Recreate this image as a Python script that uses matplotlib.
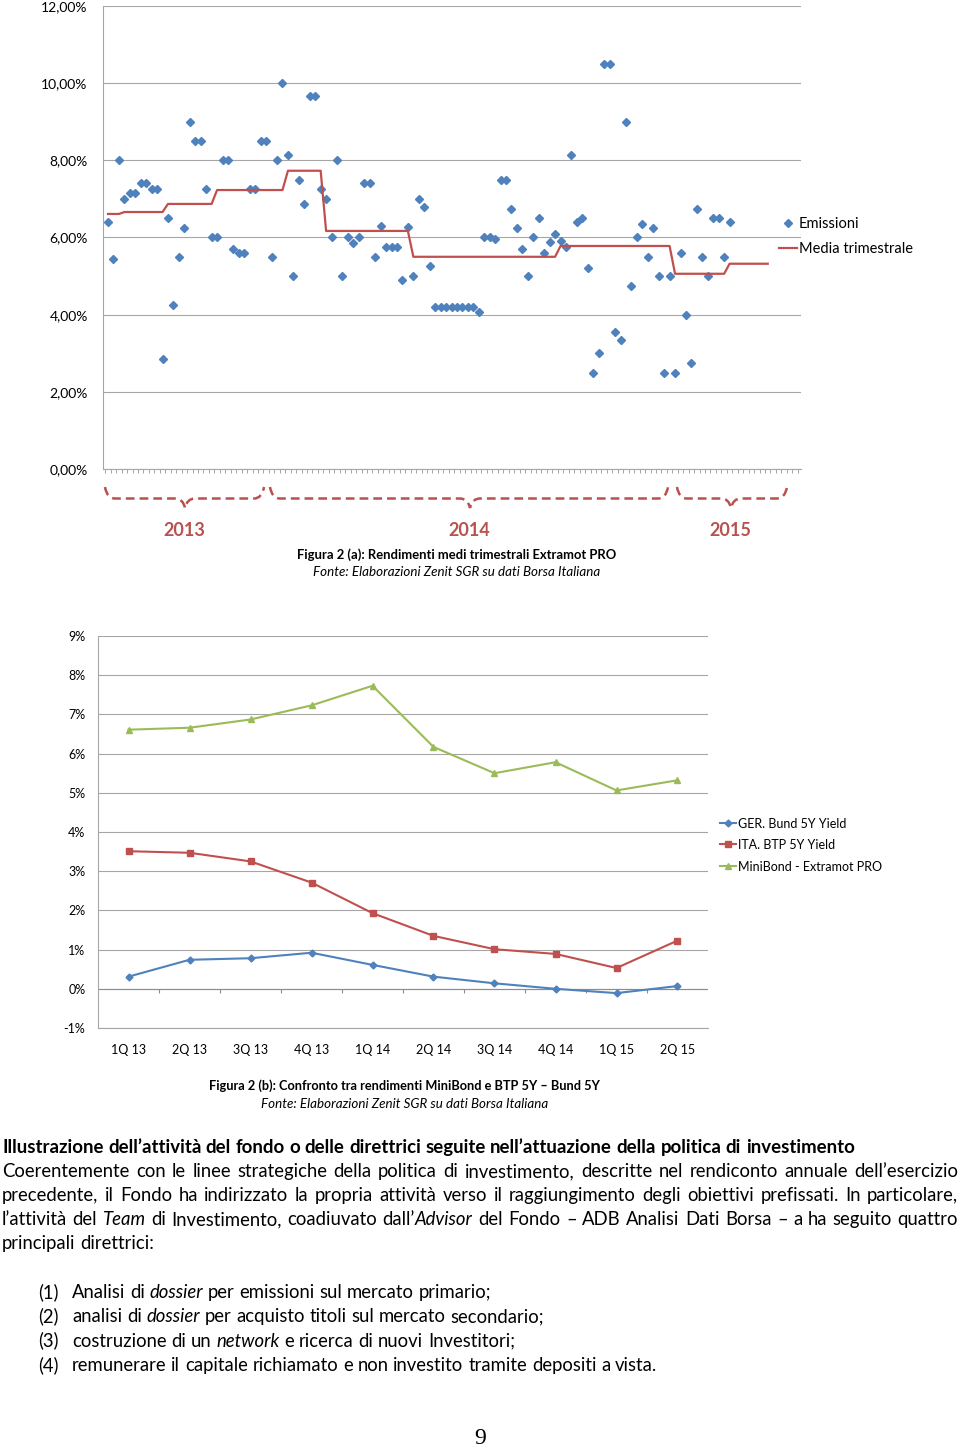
import numpy as np
import matplotlib
matplotlib.use("Agg")
import matplotlib.pyplot as plt
from matplotlib.path import Path
from matplotlib.patches import PathPatch

plt.rcParams['font.family'] = ['Lato', 'DejaVu Sans']

# Figura 2 (a): rendimento di ogni emissione (%), in ordine di data
emissioni = [
    6.40, 5.45, 8.00, 7.00, 7.15, 7.15, 7.40, 7.40, 7.25, 7.25,
    2.85, 6.50, 4.25, 5.50, 6.25, 9.00, 8.50, 8.50, 7.25, 6.00,
    6.00, 8.00, 8.00, 5.70, 5.60, 5.60, 7.25, 7.25, 8.50, 8.50,
    5.50, 8.00, 10.00, 8.13, 5.00, 7.50, 6.88, 9.68, 9.68, 7.25,
    7.00, 6.00, 8.00, 5.00, 6.00, 5.85, 6.00, 7.40, 7.40, 5.50,
    6.30, 5.75, 5.75, 5.75, 4.90, 6.27, 5.00, 7.00, 6.80, 5.25,
    4.20, 4.20, 4.20, 4.20, 4.20, 4.20, 4.20, 4.20, 4.08, 6.00,
    6.00, 5.95, 7.50, 7.50, 6.75, 6.25, 5.70, 5.00, 6.00, 6.50,
    5.60, 5.88, 6.10, 5.90, 5.75, 8.13, 6.40, 6.50, 5.20, 2.50,
    3.00, 10.50, 10.50, 3.55, 3.35, 9.00, 4.75, 6.00, 6.35, 5.50,
    6.25, 5.00, 2.50, 5.00, 2.50, 5.60, 4.00, 2.75, 6.75, 5.50,
    5.00, 6.50, 6.50, 5.50, 6.40,
]
# numero di categorie coperte da ogni trimestre nella media
len_trim = [3, 8, 9, 13, 7, 16, 27, 21, 10, 8]
anni = ['2013', '2014', '2015']

# Figura 2 (b)
trimestri = ['1Q 13', '2Q 13', '3Q 13', '4Q 13', '1Q 14',
             '2Q 14', '3Q 14', '4Q 14', '1Q 15', '2Q 15']
bund = [0.31, 0.74, 0.78, 0.92, 0.61, 0.31, 0.14, 0.00, -0.11, 0.07]
btp = [3.51, 3.47, 3.25, 2.71, 1.93, 1.35, 1.01, 0.89, 0.53, 1.23]
minibond = [6.61, 6.66, 6.87, 7.23, 7.73, 6.17, 5.50, 5.78, 5.06, 5.32]

BLUE = '#4F81BD'
RED = '#C0504D'
GREEN = '#9BBB59'
GRID = '#A6A6A6'
AXIS = '#8C8C8C'
BRACE = '#B8514F'

W, H = 960, 1448
fig = plt.figure(figsize=(W / 100, H / 100), dpi=100)


def box(l, t, r, b):
    return [l / W, 1 - b / H, (r - l) / W, (b - t) / H]


# ---------------- grafico (a)
ax1 = fig.add_axes(box(103, 6, 801, 469))
ax1.plot(np.arange(len(emissioni)), emissioni, ls='none', marker='D',
         ms=4.2, color=BLUE, zorder=3)
media = np.repeat(minibond, len_trim)
ax1.plot(np.arange(len(media)), media, color=RED, lw=1.6, zorder=4)
ax1.set_xlim(-0.92, 127.1)
ax1.set_ylim(0, 12)
yt = np.arange(0, 13, 2)
ax1.set_yticks(yt)
ax1.set_yticklabels([f'{v:.2f}'.replace('.', ',') + '%' for v in yt])
ax1.set_xticks(np.arange(-0.5, 127, 1))
ax1.tick_params(axis='x', length=3, width=0.7, color=GRID, labelbottom=False)
ax1.tick_params(axis='y', length=0, pad=11, labelsize=10)
ax1.grid(axis='y', color=GRID, lw=0.8)
ax1.set_axisbelow(True)
for s in ['top', 'right']:
    ax1.spines[s].set_visible(False)
for s in ['left', 'bottom']:
    ax1.spines[s].set_color(GRID)

# ---------------- grafico (b)
ax2 = fig.add_axes(box(98, 636, 708, 1028))
xq = np.arange(len(trimestri))
ax2.plot(xq, bund, color=BLUE, lw=1.5, marker='D', ms=3.5, zorder=4)
ax2.plot(xq, btp, color=RED, lw=1.5, marker='s', ms=4.5, zorder=4)
ax2.plot(xq, minibond, color=GREEN, lw=1.5, marker='^', ms=5, zorder=4)
ax2.set_xlim(-0.5, len(trimestri) - 0.5)
ax2.set_ylim(-1, 9)
ax2.set_yticks(range(-1, 10))
ax2.set_yticklabels([f'{v}%' for v in range(-1, 10)])
ax2.set_xticks(xq)
ax2.set_xticklabels(trimestri)
ax2.tick_params(axis='x', length=0, pad=11.5, labelsize=9)
ax2.tick_params(axis='y', length=0, pad=9, labelsize=9)
ax2.grid(axis='y', color=GRID, lw=0.8)
ax2.set_axisbelow(True)
ax2.axhline(0, color=AXIS, lw=0.8, zorder=2)
ax2.vlines(np.arange(1, len(trimestri)) - 0.5, -0.1, 0, color=AXIS, lw=0.8)
for s in ['top', 'right']:
    ax2.spines[s].set_visible(False)
for s in ['left', 'bottom']:
    ax2.spines[s].set_color(GRID)

# ---------------- testo della pagina (coordinate in pixel)
ov = fig.add_axes([0, 0, 1, 1])
ov.set_xlim(0, W)
ov.set_ylim(H, 0)
ov.axis('off')
R = fig.canvas.get_renderer()


def width(t):
    return t.get_window_extent(renderer=R).width


def fit(x, y, s, w, **kw):
    t = ov.text(x, y, s, fontsize=10, **kw)
    t.set_fontsize(10 * w / width(t))
    return t


def space(size, weight='normal'):
    a = ov.text(0, 0, 'n n', fontsize=size, weight=weight)
    b = ov.text(0, 0, 'nn', fontsize=size, weight=weight)
    w = width(a) - width(b)
    a.remove()
    b.remove()
    return w


def rich_line(x0, y, text, size, x1=None, weight='normal'):
    words = []
    for w in text.split(' '):
        segs = [(p, 'italic' if k % 2 else 'normal')
                for k, p in enumerate(w.split('*')) if p]
        arts = [ov.text(0, y, p, fontsize=size, style=st, weight=weight,
                        va='baseline') for p, st in segs]
        words.append((arts, [width(a) for a in arts]))
    gap = space(size, weight)
    if x1 is not None:
        gap = (x1 - x0 - sum(sum(ws) for _, ws in words)) / (len(words) - 1)
    x = x0
    for arts, ws in words:
        for a, wd in zip(arts, ws):
            a.set_x(x)
            x += wd
        x += gap


def brace(x0, x1, xt, y_end=487, y_mid=498.5, y_tip=508):
    verts = [(x0, y_end), (x0 + 2, y_mid), (x0 + 10, y_mid),
             (xt - 10, y_mid), (xt - 2, y_mid), (xt, y_tip),
             (xt + 2, y_mid), (xt + 10, y_mid),
             (x1 - 10, y_mid), (x1 - 2, y_mid), (x1, y_end)]
    codes = [Path.MOVETO, Path.CURVE3, Path.CURVE3, Path.LINETO,
             Path.CURVE3, Path.CURVE3, Path.CURVE3, Path.CURVE3,
             Path.LINETO, Path.CURVE3, Path.CURVE3]
    ov.add_patch(PathPatch(Path(verts, codes), fill=False, ec=BRACE,
                           lw=1.8, ls=(0, (3.5, 2))))


# legenda (a)
ov.plot([788], [223], ls='none', marker='D', ms=4.2, color=BLUE)
ov.text(799, 224, 'Emissioni', fontsize=10.5, va='center')
ov.plot([779, 797], [248, 248], color=RED, lw=1.6)
ov.text(799, 249, 'Media trimestrale', fontsize=10.5, va='center')

# graffe e anni
for (x0, x1, xt), anno in zip([(105, 264, 185), (270, 668, 470), (677, 787, 731)], anni):
    brace(x0, x1, xt)
    ov.text(xt - 1, 530, anno, fontsize=13, weight='bold', color=BRACE,
            ha='center', va='center')

fit(457, 555, 'Figura 2 (a): Rendimenti medi trimestrali Extramot PRO', 319,
    weight='bold', ha='center', va='center')
fit(457, 572, 'Fonte: Elaborazioni Zenit SGR su dati Borsa Italiana', 288,
    style='italic', ha='center', va='center')

# legenda (b)
for lab, col, mk, ms, y in [('GER. Bund 5Y Yield', BLUE, 'D', 3.5, 823),
                            ('ITA. BTP 5Y Yield', RED, 's', 4.5, 844),
                            ('MiniBond - Extramot PRO', GREEN, '^', 5, 866)]:
    ov.plot([720, 728, 736], [y, y, y], color=col, lw=1.5, marker=mk, ms=ms,
            markevery=[1])
    ov.text(738, y + 1, lab, fontsize=9, va='center')

fit(404, 1086, 'Figura 2 (b): Confronto tra rendimenti MiniBond e BTP 5Y – Bund 5Y',
    391, weight='bold', ha='center', va='center')
fit(405, 1104, 'Fonte: Elaborazioni Zenit SGR su dati Borsa Italiana', 287,
    style='italic', ha='center', va='center')

# corpo del testo
tmp = ov.text(0, 0, 'remunerare il capitale richiamato e non investito tramite depositi a vista.',
              fontsize=10)
body = 10 * 588 / width(tmp)
tmp.remove()
tmp = ov.text(0, 0, 'Illustrazione dell’attività del fondo o delle direttrici seguite '
              'nell’attuazione della politica di investimento', fontsize=10, weight='bold')
head = 10 * 855 / width(tmp)
tmp.remove()

rich_line(2, 1153, 'Illustrazione dell’attività del fondo o delle direttrici seguite '
          'nell’attuazione della politica di investimento', head, weight='bold')
rich_line(2, 1177, 'Coerentemente con le linee strategiche della politica di investimento, '
          'descritte nel rendiconto annuale dell’esercizio', body, x1=958)
rich_line(2, 1201, 'precedente, il Fondo ha indirizzato la propria attività verso il '
          'raggiungimento degli obiettivi prefissati. In particolare,', body, x1=958)
rich_line(2, 1225, 'l’attività del *Team* di Investimento, coadiuvato dall’*Advisor* del '
          'Fondo – ADB Analisi Dati Borsa – a ha seguito quattro', body, x1=958)
rich_line(2, 1249, 'principali direttrici:', body)

punti = ['Analisi di *dossier* per emissioni sul mercato primario;',
         'analisi di *dossier* per acquisto titoli sul mercato secondario;',
         'costruzione di un *network* e ricerca di nuovi Investitori;',
         'remunerare il capitale richiamato e non investito tramite depositi a vista.']
for k, p in enumerate(punti):
    y = 1298 + 24.3 * k
    ov.text(38, y, f'({k + 1})', fontsize=body, va='baseline')
    rich_line(72, y, p, body)

ov.text(480, 1439, '9', family='Liberation Serif', fontsize=17,
        ha='center', va='center')

fig.savefig('out.png', dpi=100)
